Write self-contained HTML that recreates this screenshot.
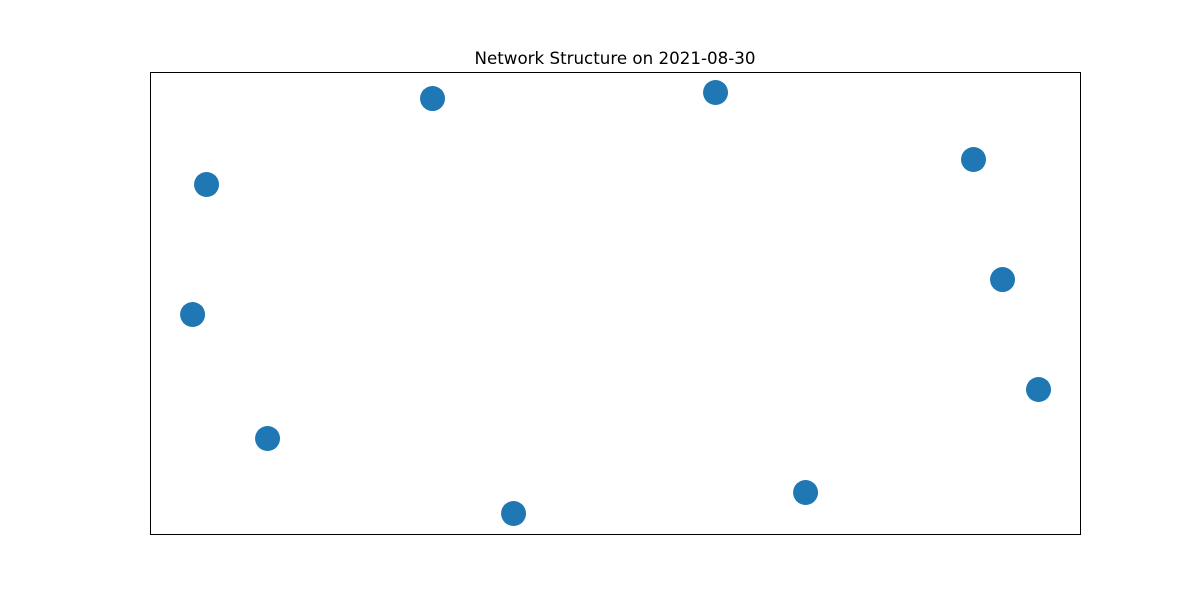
<!DOCTYPE html>
<html>
<head>
<meta charset="utf-8">
<style>
  html,body{margin:0;padding:0;background:#fff;}
  svg{display:block;}
</style>
</head>
<body>
<svg id="chart" width="1200" height="600" xmlns="http://www.w3.org/2000/svg">
  <rect x="0" y="0" width="1200" height="600" fill="#fff"/>
  <text x="615" y="64" text-anchor="middle" font-family="'DejaVu Sans', 'Liberation Sans', sans-serif" font-size="16.7" fill="#000">Network Structure on 2021-08-30</text>
  <rect x="150.5" y="72.5" width="930" height="462" fill="none" stroke="#000" stroke-width="1"/>
  <g id="nodes"></g>
</svg>
<script>
const nodeIds = ["n1","n2","n3","n4","n5","n6","n7","n8","n9","n10"];
const nodeX = [6.08, 30.38, 60.81, 88.55, 91.67, 95.54, 70.49, 39.09, 12.64, 4.58];
const nodeY = [75.65, 94.26, 95.56, 81.06, 55.08, 31.28, 8.98, 4.44, 20.67, 47.51];
const xDomain = [0, 100];
const yDomain = [0, 100];

const plot = {left:150, right:1080, top:72, bottom:534};
function xScale(v){ return plot.left + (v - xDomain[0]) / (xDomain[1]-xDomain[0]) * (plot.right-plot.left); }
function yScale(v){ return plot.bottom - (v - yDomain[0]) / (yDomain[1]-yDomain[0]) * (plot.bottom-plot.top); }

const g = document.getElementById('nodes');
const NS = "http://www.w3.org/2000/svg";
for (let i = 0; i < nodeIds.length; i++) {
  const c = document.createElementNS(NS, 'circle');
  c.setAttribute('cx', xScale(nodeX[i]));
  c.setAttribute('cy', yScale(nodeY[i]));
  c.setAttribute('r', 12.5);
  c.setAttribute('fill', '#1f77b4');
  
  
  g.appendChild(c);
}
</script>
</body>
</html>
